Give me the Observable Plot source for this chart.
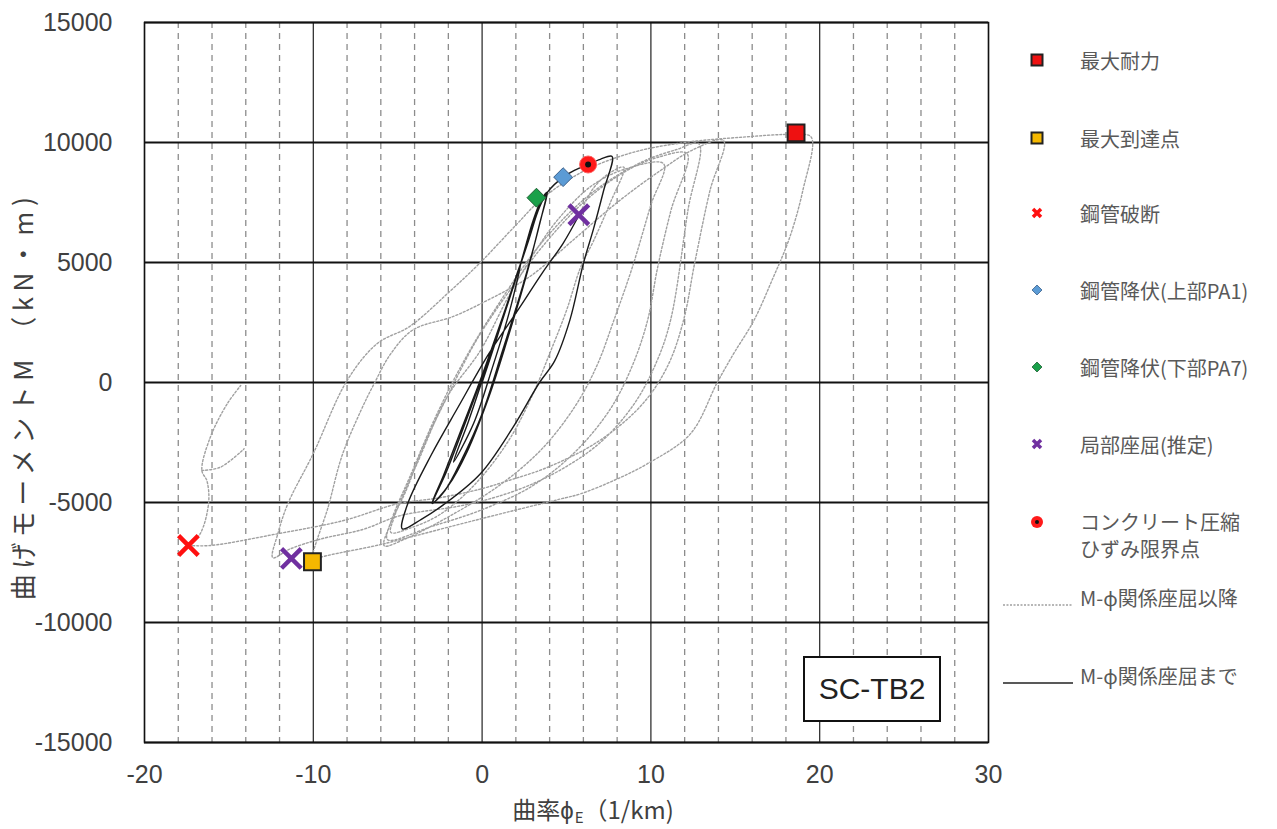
<!DOCTYPE html>
<html><head><meta charset="utf-8">
<script src="https://cdn.jsdelivr.net/npm/d3@7"></script>
<script src="https://cdn.jsdelivr.net/npm/@observablehq/plot@0.6"></script>
<style>
body{margin:0;background:#fff;}
#wrap{position:relative;width:1277px;height:829px;overflow:hidden;background:#fff;}
#chart svg{display:block;}
.lg{position:absolute;left:1080px;font:20px "Noto Sans CJK JP","Noto Sans",sans-serif;color:#595959;white-space:nowrap;line-height:27px;transform:translateY(-50%);}
.lgsym{position:absolute;}
#xlab{position:absolute;left:593px;top:810px;transform:translate(-50%,-50%);font:24px "Noto Sans CJK JP",sans-serif;line-height:1;color:#404040;white-space:nowrap;}
#xlab sub{font-size:15px;vertical-align:-4px;margin-left:1px;}
#ylab{position:absolute;left:22px;top:396px;transform:translate(-50%,-50%) rotate(-90deg);font:26px "Noto Sans CJK JP",sans-serif;line-height:1;color:#404040;white-space:nowrap;letter-spacing:5.5px;}
#tag{position:absolute;left:803px;top:656px;width:134px;height:62px;border:2px solid #111;background:#fff;display:flex;align-items:center;justify-content:center;font:30px "Liberation Sans",Arial,sans-serif;color:#222;}
</style></head>
<body><div id="wrap"><div id="chart"></div>
<div id="xlab">曲率ϕ<sub>E</sub>（1/km)</div>
<div id="ylab">曲げモーメントM （kN・m)</div>
<div id="tag">SC-TB2</div>
</div>
<script>
// ---- axis ticks ----
const xTicks = [-20, -10, 0, 10, 20, 30];
const xMinorTicks = [-18, -16, -14, -12, -8, -6, -4, -2, 2, 4, 6, 8, 12, 14, 16, 18, 22, 24, 26, 28];
const yTicks = [-15000, -10000, -5000, 0, 5000, 10000, 15000];

// ---- M-phi curve up to local buckling (solid) [phi, M] ----
const solidCurve = [
  [0,0],[0.8,1700],[1.6,3500],[2.3,5000],
  [1.6,2900],[0.6,600],[-0.5,-1700],[-1.7,-3320],
  [-0.8,-1600],[0.3,700],[1.3,2800],[2.3,5000],[3.0,6700],[3.5,7600],[3.86,7930],
  [3.4,6600],[2.6,4400],[1.5,1800],[0.4,-600],[-0.9,-2900],[-2.0,-4300],[-2.96,-5040],
  [-2.3,-3900],[-1.2,-1900],[0,300],[1.2,2700],[2.3,5000],[3.2,7000],[3.8,7850],
  [3.3,6300],[2.4,4000],[1.2,1300],[0,-1300],[-1.2,-3200],[-2.2,-4500],[-2.9,-5000],
  [-2.1,-3700],[-0.9,-1500],[0.4,1000],[1.6,3500],[2.7,5800],[3.4,7300],[3.9,7950],
  [4.8,8556],[5.5,8850],[6.26,9083],[7.0,9300],[7.7,9420],
  [7.2,8000],[6.6,6400],[6.0,4960],[5.2,2600],[4.3,900],[3.4,0],[1.8,-1900],[-0.1,-3800],[-2.3,-5100],[-3.6,-5700],[-4.73,-6100],
  [-4.4,-5040],[-3.0,-3000],[-1.4,-1000],[0.4,1200],[2.2,3100],[3.6,4600],[4.8,5800],[5.73,6958]
];

// ---- M-phi curve after local buckling (dotted) [phi, M] ----
const afterBuckling = [
  [5.73,6958],[6.6,8100],[7.5,8700],[8.4,8970],
  [7.6,7500],[6.6,5900],[5.83,4790],[5.0,3000],[4.0,1200],[3.0,-500],[1.5,-2500],[-0.5,-4300],[-2.5,-5500],[-4.2,-6050],[-5.4,-6250],
  [-5.2,-5600],[-3.8,-3300],[-2.07,-600],[-0.1,1333],[1.5,3500],[3.0,5300],[4.5,6800],[6.5,8200],[8.5,8900],[10.76,9110],
  [10.0,7400],[8.9,4800],[7.8,2580],[6.8,700],[5.5,-1000],[3.5,-2800],[1.0,-4300],[-2.0,-5600],[-4.5,-6500],[-5.8,-6800],
  [-5.5,-6000],[-4.5,-4500],[-3.5,-2700],[-2.0,-500],[-0.3,1800],[1.5,3700],[3.5,5600],[6.0,7500],[8.5,8800],[10.5,9400],[12.15,9530],
  [11.2,7200],[10.4,4800],[9.8,2580],[8.9,700],[7.6,-1100],[5.5,-2900],[3.0,-4300],[0.0,-5300],[-3.0,-6000],[-5.6,-6550],
  [-5.4,-5800],[-4.2,-3800],[-2.8,-1500],[-1.0,1000],[1.0,3300],[3.5,5800],[6.5,7900],[9.5,9200],[11.5,9700],[12.84,9944],
  [12.2,7200],[11.16,2583],[10.3,800],[9.0,-900],[7.0,-2500],[4.5,-3700],[2.0,-4500],[-1.0,-5100],[-4.9,-5556],[-7.0,-6111],[-9.6,-6528],[-11.4,-6944],[-12.4,-7300],
  [-12.1,-6300],[-11.5,-5040],[-10.0,-2960],[-8.0,80],[-6.2,1630],[-4.3,2330],[-2.0,3740],[-0.1,5000],[2.0,6556],[3.55,7658],[6.0,8800],[9.0,9600],[12.0,10000],[15.0,10200],[18.6,10333],[19.5,10222],
  [19.0,8000],[18.2,6000],[17.2,4300],[16.1,2583],[14.9,1200],[13.93,0],[12.34,-2139],[9.78,-3389],[7.8,-4083],[5.83,-4639],[4.6,-4861],[1.5,-5400],[-1.7,-5972],[-6.0,-6750],[-9.6,-7290],[-10.05,-7430],
  [-9.1,-5140],[-8.3,-3056],[-7.2,-1200],[-6.4,-56],[-5.4,1208],[-4.1,2190],[-1.7,2753],[0.4,3455],[2.8,4400],[5.5,6000],[8.0,7500],[10.5,8800],[12.5,9700],[14.3,10083],
  [13.5,8000],[12.6,5000],[11.93,2583],[11.0,700],[9.5,-900],[7.0,-2400],[4.0,-3500],[1.5,-4100],[-0.1,-4440],[-2.5,-4800],[-5.0,-5055],[-8.2,-5750],[-12.14,-6306],[-16.1,-6792],[-17.4,-6790]
];
const fractureTail = [[-17.4,-6790],[-16.7,-6300],[-16.2,-5000],[-16.3,-4100],[-16.6,-3667],[-16.1,-2278],[-15.1,-889],[-14.3,-125]];
const fractureHook = [[-16.6,-3667],[-15.5,-3528],[-14.1,-2764]];

// ---- event markers [phi, M] ----
const maxStrength = [[18.6, 10400]];        // 最大耐力
const maxReached = [[-10.05, -7470]];       // 最大到達点
const pipeFracture = [[-17.4, -6790]];      // 鋼管破断
const yieldTopPA1 = [[4.8, 8556]];          // 鋼管降伏(上部PA1)
const yieldBottomPA7 = [[3.22, 7700]];      // 鋼管降伏(下部PA7)
const localBuckling = [[5.73, 6990], [-11.3, -7330]]; // 局部座屈(推定)
const concreteLimit = [[6.28, 9083]];       // コンクリート圧縮ひずみ限界点

// ---- legend labels ----
const legendLabels = ["最大耐力","最大到達点","鋼管破断","鋼管降伏(上部PA1)","鋼管降伏(下部PA7)","局部座屈(推定)","コンクリート圧縮<br>ひずみ限界点","M-ϕ関係座屈以降","M-ϕ関係座屈まで"];

const chart = Plot.plot({
  width: 1277, height: 829,
  marginLeft: 144, marginRight: 289, marginTop: 22, marginBottom: 87,
  x: {domain: [-20, 30], axis: null},
  y: {domain: [-15000, 15000], axis: null},
  style: {background: "#fff"},
  marks: [
    Plot.ruleX(xMinorTicks, {stroke: "#8c8c8c", strokeWidth: 1.3, strokeDasharray: "6,5"}),
    Plot.ruleX(xTicks, {stroke: "#222", strokeWidth: 1.2}),
    Plot.ruleY(yTicks, {stroke: "#111", strokeWidth: 2.2}),
    Plot.axisX(xTicks, {tickSize: 0, tickPadding: 23, tickFormat: d => String(d), label: null, fontSize: 25, fontFamily: "Liberation Sans Narrow, Liberation Sans, sans-serif", fill: "#404040"}),
    Plot.axisY(yTicks, {tickSize: 0, tickPadding: 32, tickFormat: d => String(d), label: null, fontSize: 25, fontFamily: "Liberation Sans, sans-serif", fill: "#404040"}),
    Plot.line(afterBuckling, {x: d => d[0], y: d => d[1], stroke: "#a0a0a0", strokeWidth: 1.4, strokeDasharray: "2,2", curve: "catmull-rom"}),
    Plot.line(fractureTail, {x: d => d[0], y: d => d[1], stroke: "#a0a0a0", strokeWidth: 1.4, strokeDasharray: "2,2", curve: "catmull-rom"}),
    Plot.line(fractureHook, {x: d => d[0], y: d => d[1], stroke: "#a0a0a0", strokeWidth: 1.4, strokeDasharray: "2,2", curve: "catmull-rom"}),
    Plot.line(solidCurve, {x: d => d[0], y: d => d[1], stroke: "#1a1a1a", strokeWidth: 1.4, curve: "catmull-rom"}),
    Plot.frame({stroke: "#111", strokeWidth: 1.5}),
    Plot.dot(maxStrength, {x: d => d[0], y: d => d[1], symbol: "square", r: 9.5, fill: "#ee1111", stroke: "#222", strokeWidth: 2}),
    Plot.dot(maxReached, {x: d => d[0], y: d => d[1], symbol: "square", r: 9.5, fill: "#f5b800", stroke: "#222", strokeWidth: 2}),
    Plot.dot(pipeFracture, {x: d => d[0], y: d => d[1], symbol: "times", r: 9, stroke: "#ff1010", strokeWidth: 4.5}),
    Plot.dot(localBuckling, {x: d => d[0], y: d => d[1], symbol: "times", r: 9, stroke: "#7030a0", strokeWidth: 4.5}),
    Plot.dot(yieldTopPA1, {x: d => d[0], y: d => d[1], symbol: "diamond2", r: 8.5, fill: "#5b9bd5", stroke: "#3a5f8a", strokeWidth: 1}),
    Plot.dot(yieldBottomPA7, {x: d => d[0], y: d => d[1], symbol: "diamond2", r: 8.5, fill: "#1aa04a", stroke: "#1f5f33", strokeWidth: 1}),
    Plot.dot(concreteLimit, {x: d => d[0], y: d => d[1], r: 8.5, fill: "#ff1a1a", stroke: "#ff6060", strokeWidth: 1}),
    Plot.dot(concreteLimit, {x: d => d[0], y: d => d[1], r: 3, fill: "#111"})
  ]
});
document.getElementById("chart").appendChild(chart);

// ---- legend (HTML overlay) ----
const wrap = document.getElementById("wrap");
const legendY = [60, 138, 213, 290, 367, 444, 535, 597, 675];
const symSvg = [
  '<svg width="14" height="14"><rect x="1.5" y="1.5" width="11" height="11" fill="#ee1111" stroke="#222" stroke-width="2"/></svg>',
  '<svg width="14" height="14"><rect x="1.5" y="1.5" width="11" height="11" fill="#f5b800" stroke="#222" stroke-width="2"/></svg>',
  '<svg width="14" height="14"><path d="M3,3L11,11M11,3L3,11" stroke="#ff1010" stroke-width="3.5"/></svg>',
  '<svg width="14" height="14"><path d="M7,2L12,7L7,12L2,7Z" fill="#5b9bd5" stroke="#3a5f8a" stroke-width="0.8"/></svg>',
  '<svg width="14" height="14"><path d="M7,2L12,7L7,12L2,7Z" fill="#1aa04a" stroke="#1f5f33" stroke-width="0.8"/></svg>',
  '<svg width="14" height="14"><path d="M3,3L11,11M11,3L3,11" stroke="#7030a0" stroke-width="3.5"/></svg>',
  '<svg width="14" height="14"><circle cx="7" cy="7" r="6" fill="#ff1a1a"/><circle cx="7" cy="7" r="2" fill="#111"/></svg>',
  '<svg width="70" height="6"><line x1="0" y1="3" x2="70" y2="3" stroke="#a0a0a0" stroke-width="1.3" stroke-dasharray="2,1.5"/></svg>',
  '<svg width="70" height="6"><line x1="0" y1="3" x2="70" y2="3" stroke="#222" stroke-width="1.4"/></svg>'
];
legendLabels.forEach((lab, i) => {
  const t = document.createElement("div");
  t.className = "lg";
  t.style.top = legendY[i] + "px";
  t.innerHTML = lab;
  wrap.appendChild(t);
  const s = document.createElement("div");
  s.className = "lgsym";
  s.innerHTML = symSvg[i];
  if (i < 7) {
    const sy = i === 6 ? 522 : legendY[i];
    s.style.left = "1030px"; s.style.top = (sy - 7) + "px";
  } else {
    s.style.left = "1003px"; s.style.top = (legendY[i] - 3) + "px";
  }
  wrap.appendChild(s);
});
</script>
</body></html>
